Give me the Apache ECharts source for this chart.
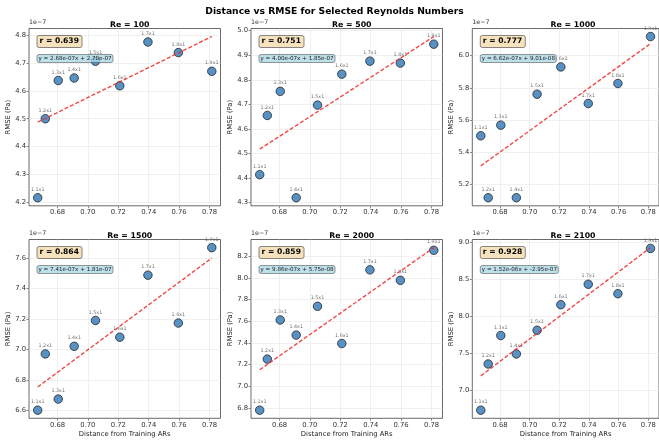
<!DOCTYPE html>
<html>
<head>
<meta charset="utf-8">
<script src="https://cdn.jsdelivr.net/npm/echarts@6/dist/echarts.min.js"></script>
<style>
  html, body { margin: 0; padding: 0; background: #fff; }
  #chart { width: 659px; height: 441px; }
</style>
</head>
<body>
<div id="chart"></div>
<script>
// test case aspect ratios
var caseNames = ['1.1x1', '1.2x1', '1.3x1', '1.4x1', '1.5x1', '1.6x1', '1.7x1', '1.8x1', '1.9x1']
// distance from training ARs (same for every Re)
var distances = [0.667, 0.672, 0.6805, 0.691, 0.705, 0.721, 0.7395, 0.7595, 0.7815]

var reNumbers = [100, 500, 1000, 1500, 2000, 2100]

// RMSE in units of 1e-7 Pa
var rmse100 = [4.217, 4.500, 4.637, 4.646, 4.706, 4.618, 4.775, 4.737, 4.670]
var rmse500 = [4.414, 4.655, 4.753, 4.320, 4.697, 4.823, 4.876, 4.868, 4.945]
var rmse1000 = [5.503, 5.119, 5.569, 5.119, 5.761, 5.930, 5.703, 5.827, 6.118]
var rmse1500 = [6.600, 6.970, 6.673, 7.020, 7.190, 7.080, 7.488, 7.173, 7.669]
var rmse2000 = [6.778, 7.250, 7.612, 7.472, 7.738, 7.394, 8.075, 7.978, 8.256]
var rmse2100 = [6.723, 7.350, 7.736, 7.486, 7.808, 8.154, 8.432, 8.304, 8.918]

// pearson r and linear fit (slope / intercept in 1e-7 units)
var corrR = ['0.639', '0.751', '0.777', '0.864', '0.859', '0.928']
var fitSlope = [2.68, 4.00, 6.62, 7.41, 9.86, 15.2]
var fitIntercept = [2.70, 1.85, 0.901, 1.81, 0.575, -2.95]
var fitText = [
  'y = 2.68e-07x + 2.70e-07',
  'y = 4.00e-07x + 1.85e-07',
  'y = 6.62e-07x + 9.01e-08',
  'y = 7.41e-07x + 1.81e-07',
  'y = 9.86e-07x + 5.75e-08',
  'y = 1.52e-06x + -2.95e-07'
]

// tick labels
var xTicks = [0.68, 0.70, 0.72, 0.74, 0.76, 0.78]
var yTicks100 = [4.2, 4.3, 4.4, 4.5, 4.6, 4.7, 4.8]
var yTicks500 = [4.3, 4.4, 4.5, 4.6, 4.7, 4.8, 4.9, 5.0]
var yTicks1000 = [5.2, 5.4, 5.6, 5.8, 6.0]
var yTicks1500 = [6.6, 6.8, 7.0, 7.2, 7.4, 7.6]
var yTicks2000 = [6.8, 7.0, 7.2, 7.4, 7.6, 7.8, 8.0, 8.2]
var yTicks2100 = [7.0, 7.5, 8.0, 8.5, 9.0]

var rmseList = [rmse100, rmse500, rmse1000, rmse1500, rmse2000, rmse2100]
var yTickList = [yTicks100, yTicks500, yTicks1000, yTicks1500, yTicks2000, yTicks2100]

var FONT = 'DejaVu Sans'
var colLeft = [29, 251, 472.3]
var rowTop = [28.5, 239.5]
var rowHeight = [177.3, 178.8]
var plotWidth = 191.5

function buildOption() {
  var xLo = Math.min.apply(null, distances)
  var xHi = Math.max.apply(null, distances)
  var xPad = (xHi - xLo) * 0.05

  var grids = []
  var xAxes = []
  var yAxes = []
  var series = []
  var titles = [{
    text: 'Distance vs RMSE for Selected Reynolds Numbers',
    left: 329.5,
    top: 2,
    textAlign: 'center',
    textStyle: { fontFamily: FONT, fontSize: 9.2, fontWeight: 'bold', color: '#000' }
  }]

  for (var i = 0; i < 6; i++) {
    var row = Math.floor(i / 3)
    var col = i % 3
    var ys = rmseList[i]
    var gx = colLeft[col]
    var gy = rowTop[row]
    var lineStart = fitSlope[i] * xLo + fitIntercept[i]
    var lineEnd = fitSlope[i] * xHi + fitIntercept[i]
    var yLo = Math.min.apply(null, ys.concat([lineStart, lineEnd]))
    var yHi = Math.max.apply(null, ys.concat([lineStart, lineEnd]))
    var yPad = (yHi - yLo) * 0.05

    grids.push({
      left: gx,
      top: gy,
      width: plotWidth,
      height: rowHeight[row],
      show: true,
      borderColor: '#444',
      borderWidth: 0.8
    })

    xAxes.push({
      type: 'value',
      gridIndex: i,
      min: xLo - xPad,
      max: xHi + xPad,
      name: row === 1 ? 'Distance from Training ARs' : '',
      nameLocation: 'middle',
      nameGap: 12,
      nameTextStyle: { fontFamily: FONT, fontSize: 6.8, color: '#222' },
      axisLine: { show: false },
      axisTick: { show: true, length: 2.5, lineStyle: { color: '#444', width: 0.6 }, customValues: xTicks },
      axisLabel: {
        fontFamily: FONT, fontSize: 6.8, color: '#333', margin: 3,
        customValues: xTicks,
        formatter: function (v) { return v.toFixed(2) }
      },
      splitLine: { show: true, lineStyle: { color: '#e6e6e6', width: 0.6 } }
    })

    yAxes.push({
      type: 'value',
      gridIndex: i,
      min: yLo - yPad,
      max: yHi + yPad,
      name: 'RMSE (Pa)',
      nameLocation: 'middle',
      nameRotate: 90,
      nameGap: 17,
      nameTextStyle: { fontFamily: FONT, fontSize: 6.8, color: '#222' },
      axisLine: { show: false },
      axisTick: { show: true, length: 2.5, lineStyle: { color: '#444', width: 0.6 }, customValues: yTickList[i] },
      axisLabel: {
        fontFamily: FONT, fontSize: 6.8, color: '#333', margin: 3,
        customValues: yTickList[i],
        formatter: function (v) { return v.toFixed(1) }
      },
      splitLine: { show: true, lineStyle: { color: '#e6e6e6', width: 0.6 } }
    })

    var pts = []
    for (var k = 0; k < distances.length; k++) {
      pts.push({ value: [distances[k], ys[k]], name: caseNames[k] })
    }

    series.push({
      type: 'scatter',
      xAxisIndex: i,
      yAxisIndex: i,
      data: pts,
      symbolSize: 8.5,
      itemStyle: { color: '#4a88bf', borderColor: '#1a1a1a', borderWidth: 0.8, opacity: 0.92 },
      label: {
        show: true,
        position: 'top',
        distance: 1,
        formatter: function (p) { return p.name },
        fontFamily: FONT,
        fontSize: 4.8,
        color: '#666'
      },
      z: 2
    })

    series.push({
      type: 'line',
      xAxisIndex: i,
      yAxisIndex: i,
      data: [[xLo, lineStart], [xHi, lineEnd]],
      symbol: 'none',
      lineStyle: { color: '#f02828', width: 1.4, type: [4, 2], opacity: 0.85 },
      silent: true,
      z: 3
    })

    // subplot title
    titles.push({
      text: 'Re = ' + reNumbers[i],
      left: gx + plotWidth / 2,
      top: gy - 12.5,
      textAlign: 'center',
      textStyle: { fontFamily: FONT, fontSize: 7.8, fontWeight: 'bold', color: '#000' }
    })
    // scale offset text
    titles.push({
      text: '1e\u22127',
      left: gx,
      top: gy - 9.5,
      padding: 0,
      textStyle: { fontFamily: FONT, fontSize: 6.3, fontWeight: 'normal', color: '#333' }
    })
    // correlation box
    titles.push({
      text: 'r = ' + corrR[i],
      left: gx + 7.5,
      top: gy + 7,
      padding: [1.5, 3],
      backgroundColor: 'rgba(245,222,179,0.85)',
      borderColor: '#555',
      borderWidth: 0.7,
      borderRadius: 2,
      textStyle: { fontFamily: FONT, fontSize: 7.6, fontWeight: 'bold', color: '#000', lineHeight: 9 }
    })
    // fit equation box
    titles.push({
      text: fitText[i],
      left: gx + 7.5,
      top: gy + 25.5,
      padding: [1, 2],
      backgroundColor: 'rgba(173,216,230,0.8)',
      borderColor: '#555',
      borderWidth: 0.6,
      borderRadius: 2,
      textStyle: { fontFamily: FONT, fontSize: 5.6, fontWeight: 'normal', color: '#222', lineHeight: 7 }
    })
  }

  return {
    backgroundColor: '#fff',
    animation: false,
    title: titles,
    grid: grids,
    xAxis: xAxes,
    yAxis: yAxes,
    series: series
  }
}

var chart = echarts.init(document.getElementById('chart'))
chart.setOption(buildOption())
</script>
</body>
</html>
